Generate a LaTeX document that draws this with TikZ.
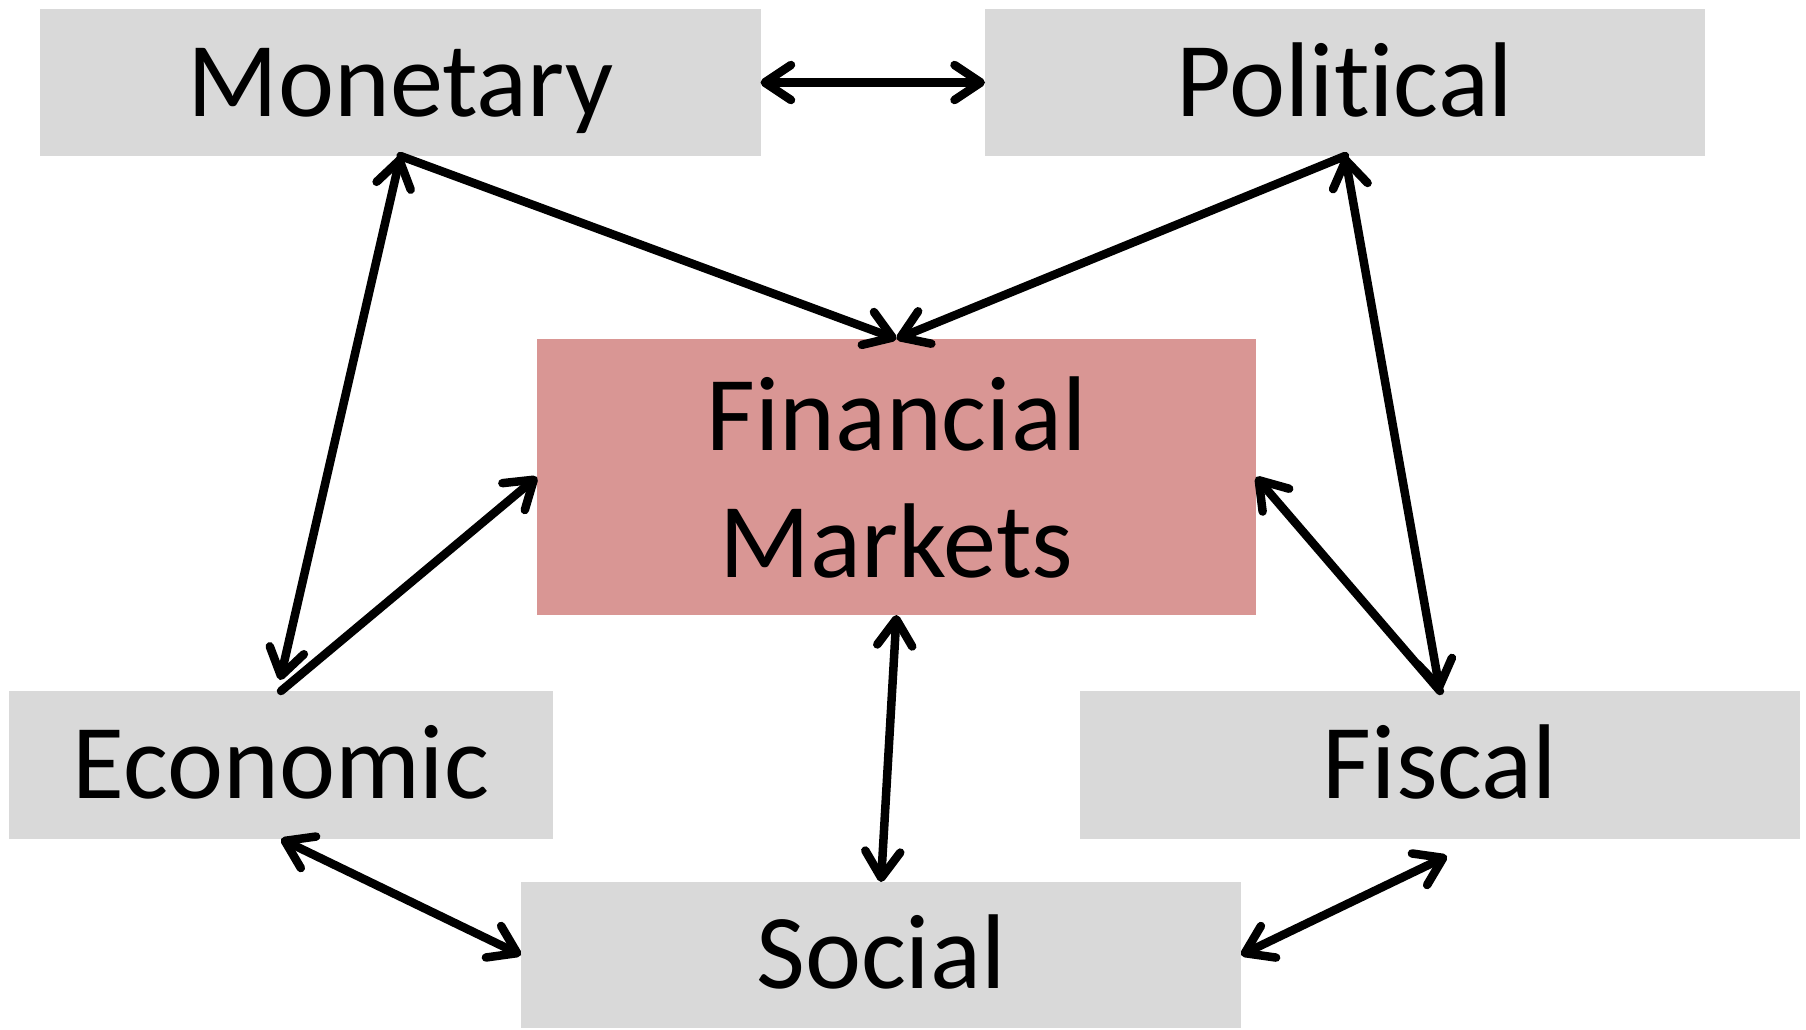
\documentclass[tikz,border=0pt]{standalone}
\usepackage{fontspec}
\setmainfont{Carlito}[Ligatures=NoCommon]
\usetikzlibrary{arrows.meta}
\definecolor{boxgray}{HTML}{D9D9D9}
\definecolor{boxred}{HTML}{D99694}
\begin{document}
\begin{tikzpicture}[x=0.4pt,y=-0.4pt,
  base/.style={inner sep=0pt, outer sep=0pt, font=\fontsize{42.5}{50.8}\selectfont},
  graybox/.style={base, fill=boxgray, minimum width=288pt, minimum height=58.8pt, text height=26.8pt, text depth=0pt},
  redbox/.style={base, fill=boxred, minimum width=287.6pt, minimum height=110.4pt, align=center},
  tip/.tip={Straight Barb[length=10.5pt,width=14pt,round]},
  conn/.style={line width=3.4pt, line cap=round, line join=round}
]
\useasboundingbox (0,0) rectangle (1806,1029);
\node[graybox] (mon) at (400.5,82.5) {Monetary};
\node[graybox] (pol) at (1345,82.5) {Political};
\node[redbox] (fin) at (896.5,477) {Financial\\Markets};
\node[graybox, minimum width=217.6pt, minimum height=59.2pt] (eco) at (281,765) {Economic};
\node[graybox, minimum height=59.2pt] (fis) at (1440,765) {Fiscal};
\node[graybox, minimum height=58.4pt] (soc) at (881,955) {Social};

\draw[conn, tip-tip] (mon.east) -- (pol.west);
\draw[conn, -tip] (mon.south) -- (fin.north);
\draw[conn, -tip] (pol.south) -- (fin.north);
\draw[conn, tip-tip] (pol.south) -- (fis.north);
\draw[conn, -tip] (fis.north) -- (fin.east);
\draw[conn, -tip] (eco.north) -- (fin.west);
\draw[conn, tip-tip] ([shift={(-1,-11)}]eco.north) -- (mon.south);
\draw[conn, tip-tip] (fin.south) -- (soc.north);
\draw[conn, tip-tip] (eco.south) -- (soc.west);
\draw[conn, tip-tip] (soc.east) -- ([shift={(7,17)}]fis.south);
\end{tikzpicture}
\end{document}
